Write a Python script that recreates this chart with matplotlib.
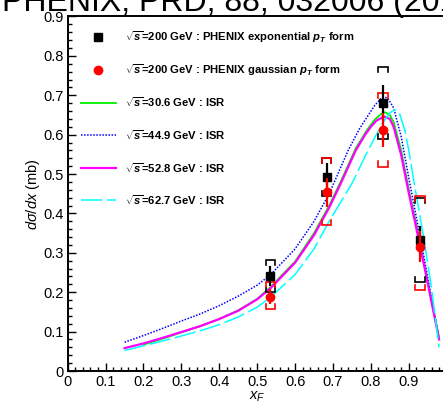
import matplotlib
matplotlib.use("Agg")
import matplotlib.pyplot as plt
from matplotlib.ticker import MultipleLocator, FuncFormatter

plt.rcParams['font.family'] = ['Liberation Sans', 'DejaVu Sans']
plt.rcParams['mathtext.fontset'] = 'custom'
plt.rcParams['mathtext.rm'] = 'Liberation Sans'
plt.rcParams['mathtext.it'] = 'Liberation Sans:italic'
plt.rcParams['mathtext.bf'] = 'Liberation Sans:bold'
plt.rcParams['mathtext.bfit'] = 'Liberation Sans:bold:italic'

# PHENIX points at sqrt(s) = 200 GeV
x_pts = [0.535, 0.683, 0.833, 0.930]
exp_y = [0.242, 0.492, 0.681, 0.333]
exp_stat = [0.025, 0.035, 0.045, 0.035]
exp_sys = [0.041, 0.048, 0.092, 0.107]
gaus_y = [0.189, 0.454, 0.612, 0.316]
gaus_stat = [0.018, 0.037, 0.043, 0.040]
gaus_sys_up = [0.038, 0.086, 0.095, 0.128]
gaus_sys_dn = [0.032, 0.083, 0.093, 0.110]

# ISR parametrisations
isr306_x = [0.20, 0.25, 0.30, 0.35, 0.40, 0.45, 0.50, 0.535, 0.60, 0.65, 0.69, 0.72,
            0.76, 0.79, 0.81, 0.825, 0.837, 0.85, 0.86, 0.88, 0.90, 0.92, 0.94, 0.96, 0.98]
isr306_y = [0.067, 0.082, 0.098, 0.114, 0.132, 0.154, 0.183, 0.213, 0.278, 0.350, 0.420, 0.480,
            0.565, 0.612, 0.638, 0.651, 0.657, 0.650, 0.632, 0.560, 0.460, 0.370, 0.275, 0.180, 0.085]

isr449_x = [0.15, 0.20, 0.25, 0.30, 0.35, 0.40, 0.45, 0.50, 0.535, 0.60, 0.65, 0.69, 0.74,
            0.77, 0.79, 0.81, 0.825, 0.835, 0.845, 0.86, 0.88, 0.90, 0.92, 0.94, 0.96, 0.98]
isr449_y = [0.073, 0.090, 0.108, 0.127, 0.145, 0.166, 0.190, 0.218, 0.244, 0.310, 0.380, 0.450, 0.560,
            0.615, 0.645, 0.674, 0.690, 0.696, 0.692, 0.668, 0.595, 0.490, 0.390, 0.290, 0.185, 0.080]

isr528_x = [0.15, 0.20, 0.25, 0.30, 0.35, 0.40, 0.45, 0.50, 0.535, 0.60, 0.65, 0.69, 0.72,
            0.76, 0.785, 0.80, 0.815, 0.835, 0.85, 0.86, 0.88, 0.90, 0.92, 0.94, 0.96, 0.98]
isr528_y = [0.058, 0.070, 0.084, 0.099, 0.114, 0.132, 0.153, 0.182, 0.210, 0.275, 0.345, 0.415, 0.475,
            0.560, 0.600, 0.620, 0.636, 0.646, 0.640, 0.620, 0.548, 0.452, 0.362, 0.270, 0.175, 0.080]

isr627_x = [0.15, 0.20, 0.25, 0.30, 0.357, 0.40, 0.45, 0.50, 0.535, 0.60, 0.65, 0.69, 0.75,
            0.793, 0.83, 0.85, 0.862, 0.875, 0.89, 0.90, 0.92, 0.94, 0.96, 0.98]
isr627_y = [0.052, 0.064, 0.076, 0.089, 0.104, 0.118, 0.137, 0.162, 0.187, 0.245, 0.310, 0.380, 0.476,
            0.561, 0.628, 0.655, 0.663, 0.655, 0.610, 0.560, 0.445, 0.335, 0.210, 0.060]

legend_labels = [
    r"$\sqrt{\mathbfit{s}}$=200 GeV : PHENIX exponential $\mathbfit{p}_{\mathbfit{T}}$ form",
    r"$\sqrt{\mathbfit{s}}$=200 GeV : PHENIX gaussian $\mathbfit{p}_{\mathbfit{T}}$ form",
    r"$\sqrt{\mathbfit{s}}$=30.6 GeV : ISR",
    r"$\sqrt{\mathbfit{s}}$=44.9 GeV : ISR",
    r"$\sqrt{\mathbfit{s}}$=52.8 GeV : ISR",
    r"$\sqrt{\mathbfit{s}}$=62.7 GeV : ISR",
]

fig = plt.figure(figsize=(4.43, 4.01), dpi=100)
ax = fig.add_axes([0.1528, 0.0748, 0.8555, 0.8841])
ax.set_xlim(0, 1)
ax.set_ylim(0, 0.9)

green = '#00ee00'
blue = '#0000ff'
magenta = '#ff00ff'
cyan = '#00ffff'

styles = [
    dict(color=green, lw=1.3, ls='-'),
    dict(color=blue, lw=1.1, ls=(0, (1, 1))),
    dict(color=magenta, lw=1.6, ls='-'),
    dict(color=cyan, lw=1.1, ls=(0, (14, 3))),
]
curves = [(isr306_x, isr306_y), (isr449_x, isr449_y), (isr528_x, isr528_y), (isr627_x, isr627_y)]
for (cx, cy), st in zip(curves, styles):
    ax.plot(cx, cy, **st, zorder=2)

# systematic brackets
hw = 0.013
arm = 0.013


def bracket(x, lo, hi, color):
    ax.plot([x - hw, x - hw, x + hw, x + hw], [hi - arm, hi, hi, hi - arm],
            color=color, lw=1.2, zorder=3, solid_joinstyle='miter')
    ax.plot([x - hw, x - hw, x + hw, x + hw], [lo + arm, lo, lo, lo + arm],
            color=color, lw=1.2, zorder=3, solid_joinstyle='miter')


for i, x in enumerate(x_pts):
    bracket(x, exp_y[i] - exp_sys[i], exp_y[i] + exp_sys[i], 'black')
    bracket(x, gaus_y[i] - gaus_sys_dn[i], gaus_y[i] + gaus_sys_up[i], 'red')

ax.errorbar(x_pts, exp_y, yerr=exp_stat, fmt='s', color='black', ms=5.5,
            elinewidth=1.6, capsize=0, zorder=4)
ax.errorbar(x_pts, gaus_y, yerr=gaus_stat, fmt='o', color='red', ms=6,
            elinewidth=1.6, capsize=0, zorder=5)

# legend drawn in axes coordinates
row0 = 0.941
drow = 0.092
for i, lab in enumerate(legend_labels):
    yy = row0 - i * drow
    if i == 0:
        ax.plot([0.0807], [yy], 's', color='black', ms=5.5, transform=ax.transAxes)
    elif i == 1:
        ax.plot([0.0807], [yy], 'o', color='red', ms=6, transform=ax.transAxes)
    else:
        ax.plot([0.0343, 0.1267], [yy, yy], transform=ax.transAxes, **styles[i - 2])
    ax.text(0.151, yy, lab, transform=ax.transAxes, fontsize=8.1, fontweight='bold',
            va='center', ha='left')

ax.xaxis.set_major_locator(MultipleLocator(0.1))
ax.xaxis.set_minor_locator(MultipleLocator(0.02))
ax.yaxis.set_major_locator(MultipleLocator(0.1))
ax.yaxis.set_minor_locator(MultipleLocator(0.02))
fmt = FuncFormatter(lambda v, p: f"{v:.1f}".rstrip('0').rstrip('.') if abs(v) > 1e-9 else "0")
ax.xaxis.set_major_formatter(fmt)
ax.yaxis.set_major_formatter(fmt)
ax.tick_params(which='both', direction='in', top=False, right=False, labelsize=10.5, width=1.0)
ax.tick_params(which='major', length=5.5, pad=3)
ax.tick_params(which='minor', length=3)
for s in ax.spines.values():
    s.set_linewidth(1.4)

ax.set_ylabel(r"$d\sigma/dx$ (mb)", fontsize=10.5, labelpad=1)
ax.set_xlabel(r"$x_F$", fontsize=10.5, labelpad=0)

fig.text(0.005, 0.972, "PHENIX, PRD, 88, 032006 (2013)", fontsize=23,
         ha='left', va='baseline')

fig.savefig("out.png", dpi=100)
